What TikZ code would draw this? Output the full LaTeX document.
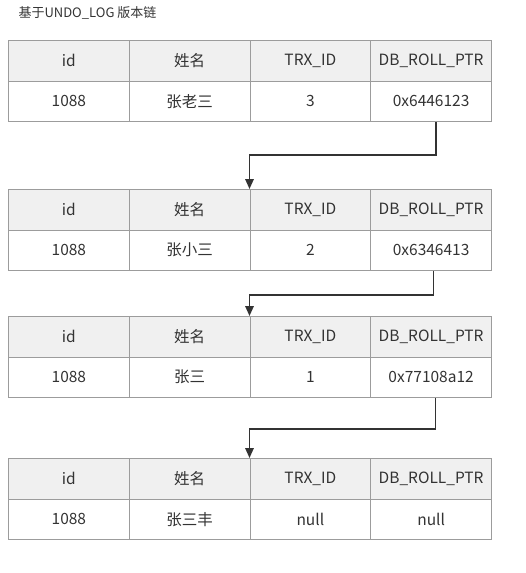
\documentclass[tikz,border=0pt]{standalone}
\usepackage{fontspec}
\setmainfont{Noto Sans CJK SC}
\usetikzlibrary{calc,positioning,arrows.meta}
\definecolor{gridc}{HTML}{9C9C9C}
\definecolor{headbg}{HTML}{F0F0F0}
\definecolor{txt}{HTML}{333333}
\definecolor{linkc}{HTML}{333333}

\begin{document}
\begin{tikzpicture}[x=1pt,y=-1pt,
	cell/.style={draw=gridc, line width=1pt, minimum width=120.75pt, minimum height=40.5pt,
		inner sep=0pt, anchor=north west, text=txt, font=\fontsize{15.5}{15.5}\selectfont},
	head/.style={cell, fill=headbg},
	link/.style={draw=linkc, line width=1.6pt, -{Triangle[length=10pt,width=8.5pt]}}]
	\useasboundingbox (0,0) rectangle (526,573);
	\node[anchor=west, text=txt, font=\fontsize{13}{13}\selectfont] (title) at (15,13) {基于UNDO\_LOG 版本链};
	% one table per version
	\foreach \t/\y/\nm/\trx/\ptr in {1/40/张老三/3/0x6446123, 2/189/张小三/2/0x6346413,
		3/316/张三/1/0x77108a12, 4/458/张三丰/null/null}{
		\node[head] (t\t-h1) at (8,\y) {id};
		\node[head] (t\t-h2) at (128.75,\y) {姓名};
		\node[head] (t\t-h3) at (249.5,\y) {TRX\_ID};
		\node[head] (t\t-h4) at (370.25,\y) {DB\_ROLL\_PTR};
		\node[cell] (t\t-d1) at (8,\y+40.5) {1088};
		\node[cell] (t\t-d2) at (128.75,\y+40.5) {\nm};
		\node[cell] (t\t-d3) at (249.5,\y+40.5) {\trx};
		\node[cell] (t\t-d4) at (370.25,\y+40.5) {\ptr};
	}
	% roll pointers
	\draw[link] ($(t1-d4.south)+(5,0)$) -- ++(0,33) -| (t2-h3.north west);
	\draw[link] ($(t2-d4.south)+(2.5,0)$) -- ++(0,24) -| (t3-h3.north west);
	\draw[link] ($(t3-d4.south)+(4.5,0)$) -- ++(0,31) -| (t4-h3.north west);
\end{tikzpicture}
\end{document}
